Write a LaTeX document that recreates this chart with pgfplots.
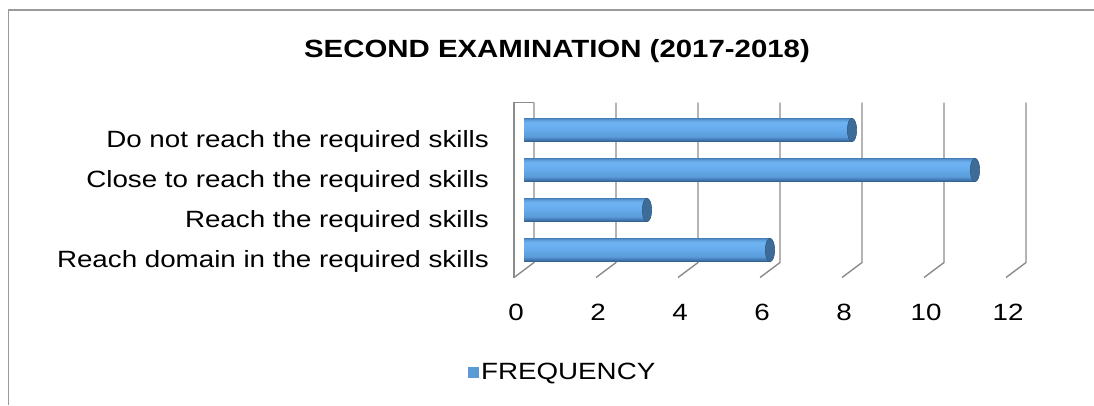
\documentclass[border=0pt]{standalone}
\usepackage{fontspec}
\setmainfont{Liberation Sans}[FakeStretch=1.18]
\usepackage{pgfplots}
\pgfplotsset{compat=1.18}
\definecolor{gridc}{HTML}{8C8C8C}
\definecolor{framec}{HTML}{9A9A9A}
\definecolor{capc}{HTML}{3D6C98}
\definecolor{capedge}{HTML}{2F5C88}
\definecolor{legc}{HTML}{5B9BD5}
\pgfdeclareverticalshading{barshade}{100bp}{%
  color(0bp)=(rgb,255:red,46;green,90;blue,133);
  color(25bp)=(rgb,255:red,46;green,90;blue,133);
  color(29bp)=(rgb,255:red,63;green,117;blue,171);
  color(36bp)=(rgb,255:red,90;green,156;blue,218);
  color(55bp)=(rgb,255:red,104;green,174;blue,238);
  color(66bp)=(rgb,255:red,109;green,180;blue,243);
  color(72bp)=(rgb,255:red,92;green,156;blue,216);
  color(75bp)=(rgb,255:red,74;green,132;blue,190);
  color(100bp)=(rgb,255:red,74;green,132;blue,190)}
\begin{document}
\begin{tikzpicture}[x=1bp,y=1bp]
\useasboundingbox (0,0) rectangle (1094,405);
\draw[framec, line width=1.2bp] (8.5,0) -- (8.5,395) -- (1094,395);
\node[font=\fontsize{25}{30}\selectfont\bfseries, anchor=base, inner sep=0] at (557,348) {SECOND EXAMINATION (2017-2018)};
\begin{axis}[
  at={(524bp,135bp)}, anchor=south west,
  scale only axis, width=492bp, height=160bp,
  xmin=0, xmax=12, ymin=0.5, ymax=4.5,
  axis line style={draw=none},
  major tick length=0pt,
  xtick={0,2,4,6,8,10,12},
  ytick={1,2,3,4},
  yticklabels={Reach domain in the required skills, Reach the required skills, Close to reach the required skills, Do not reach the required skills},
  /pgf/number format/assume math mode=true,
  ticklabel style={font=\fontsize{23.6}{28}\selectfont, inner sep=0pt},
  xticklabel style={anchor=base, yshift=-50bp, xshift=-8bp},
  yticklabel style={anchor=base east, xshift=-35bp, yshift=-17bp},
  legend style={draw=none, fill=none, font=\fontsize{23.6}{28}\selectfont,
    at={(axis description cs:-0.1138,-0.6375)}, anchor=west, inner sep=0pt,
    nodes={inner sep=2.5bp}},
  clip=false,
  bars/.style={xbar, bar width=23.4bp, draw=none, shading=barshade, forget plot},
]
\pgfplotsinvokeforeach{0,2,4,6,8,10,12}{
  \draw[gridc, line width=1.4bp] ([shift={(-10bp,-7.5bp)}]axis cs:#1,0.5) -- ([shift={(10bp,7.5bp)}]axis cs:#1,0.5) -- ([shift={(10bp,7.5bp)}]axis cs:#1,4.5);
}
\draw[gridc, line width=1.4bp] ([shift={(-10bp,-7.5bp)}]axis cs:0,0.5) -- ([shift={(-10bp,7.5bp)}]axis cs:0,4.5) -- ([shift={(10bp,7.5bp)}]axis cs:0,4.5);
\addlegendimage{legend image code/.code={\fill[legc] (0bp,-5bp) rectangle (10bp,5bp);}}
\addlegendentry{FREQUENCY}
\addplot[bars] coordinates {(6,1)};
\addplot[bars] coordinates {(3,2)};
\addplot[bars] coordinates {(11,3)};
\addplot[bars] coordinates {(8,4)};
\addplot[forget plot, only marks, mark=*, mark size=11.7bp, mark options={xscale=0.4, draw=capedge, line width=0.6bp, fill=capc}] coordinates {(6,1) (3,2) (11,3) (8,4)};
\end{axis}
\end{tikzpicture}
\end{document}
